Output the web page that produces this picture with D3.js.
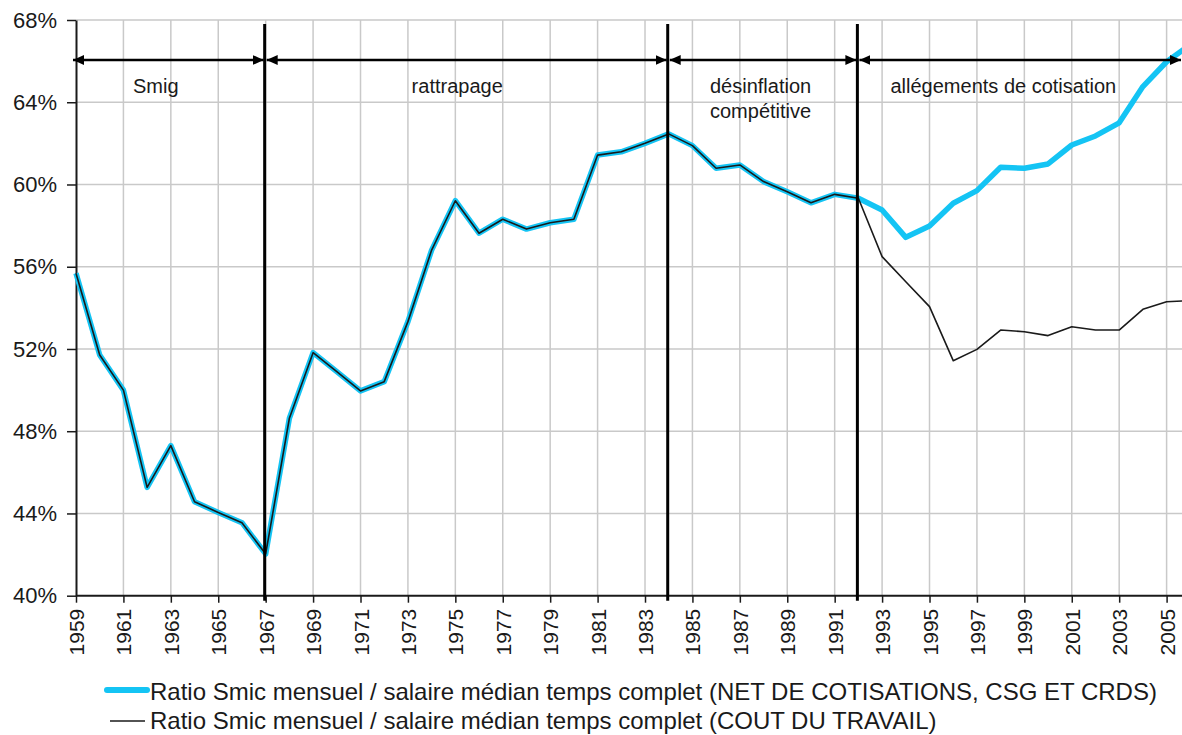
<!DOCTYPE html>
<html><head><meta charset="utf-8">
<script src="https://cdn.jsdelivr.net/npm/d3@7/dist/d3.min.js"></script>
<style>body{margin:0;background:#fff} svg{display:block;font-family:Arial,"Liberation Sans",sans-serif}</style>
</head><body><svg id="c" width="1182" height="735"></svg>
<script>
const years = [1959,1960,1961,1962,1963,1964,1965,1966,1967,1968,1969,1970,1971,1972,1973,1974,1975,1976,1977,1978,1979,1980,1981,1982,1983,1984,1985,1986,1987,1988,1989,1990,1991,1992,1993,1994,1995,1996,1997,1998,1999,2000,2001,2002,2003,2004,2005,2006];
const netValues = [55.68,51.71,50.0,45.27,47.3,44.57,44.05,43.55,42.03,48.63,51.82,50.9,49.96,50.41,53.33,56.81,59.21,57.63,58.31,57.83,58.14,58.31,61.43,61.59,62.0,62.46,61.89,60.79,60.95,60.14,59.65,59.11,59.52,59.33,58.76,57.43,57.98,59.09,59.7,60.84,60.79,61.0,61.92,62.36,63.0,64.76,65.97,66.8];
const costValues = [55.68,51.71,50.0,45.27,47.3,44.57,44.05,43.55,42.03,48.63,51.82,50.9,49.96,50.41,53.33,56.81,59.21,57.63,58.31,57.83,58.14,58.31,61.43,61.59,62.0,62.46,61.89,60.79,60.95,60.14,59.65,59.11,59.52,59.33,56.49,55.27,54.06,51.43,51.98,52.92,52.84,52.65,53.08,52.92,52.92,53.93,54.3,54.35];
const yTickValues = [40,44,48,52,56,60,64,68];
const xTickValues = [1959,1961,1963,1965,1967,1969,1971,1973,1975,1977,1979,1981,1983,1985,1987,1989,1991,1993,1995,1997,1999,2001,2003,2005];
const periodBounds = [1959,1967,1984,1992,2006];
const periodLabels = [["Smig"],["rattrapage"],["désinflation","compétitive"],["allégements de cotisation"]];
const legendLabels = ["Ratio Smic mensuel / salaire médian temps complet (NET DE COTISATIONS, CSG ET CRDS)","Ratio Smic mensuel / salaire médian temps complet (COUT DU TRAVAIL)"];

const W = 1182, H = 735;
const CYAN = "#14c4f4", INK = "#1a1a1a", GRID = "#c9c9c9";
const svg = d3.select("#c");
const x = d3.scaleLinear().domain([1959, 2005]).range([76, 1166.6]);
const y = d3.scaleLinear().domain([40, 68]).range([595.7, 20]);
const plotLeft = x(1959), plotTop = y(68), plotBottom = y(40);

// grid
svg.append("g").selectAll("line").data(yTickValues.filter(d => d > 40)).join("line")
  .attr("x1", plotLeft).attr("x2", W).attr("y1", d => y(d)).attr("y2", d => y(d))
  .attr("stroke", GRID).attr("stroke-width", 1.5);
svg.append("g").selectAll("line").data(xTickValues.filter(d => d > 1959)).join("line")
  .attr("x1", d => x(d)).attr("x2", d => x(d)).attr("y1", plotTop).attr("y2", plotBottom)
  .attr("stroke", GRID).attr("stroke-width", 1.5);

// y axis
const ya = svg.append("g").attr("transform", `translate(${plotLeft},0)`)
  .call(d3.axisLeft(y).tickValues(yTickValues).tickFormat(d => d + "%").tickSize(9).tickSizeOuter(0).tickPadding(10));
ya.select(".domain").attr("stroke", INK).attr("stroke-width", 2);
ya.selectAll(".tick line").attr("stroke", INK).attr("stroke-width", 1.5);
ya.selectAll("text").attr("font-size", 22).attr("fill", INK).attr("font-family", "Arial, 'Liberation Sans', sans-serif");

// x axis
const xa = svg.append("g").attr("transform", `translate(0,${plotBottom})`)
  .call(d3.axisBottom(x).tickValues(xTickValues).tickFormat(d3.format("d")).tickSize(7).tickSizeOuter(0));
xa.select(".domain").remove();
xa.append("line").attr("x1", plotLeft).attr("x2", W).attr("y1", 0).attr("y2", 0).attr("stroke", INK).attr("stroke-width", 2);
xa.selectAll(".tick line").attr("stroke", INK).attr("stroke-width", 1.5);
xa.selectAll("text").attr("font-size", 21).attr("fill", INK).attr("font-family", "Arial, 'Liberation Sans', sans-serif")
  .attr("transform", "rotate(-90)").attr("text-anchor", "end").attr("x", -13).attr("y", 0).attr("dy", "0.36em");

// lines
const pts = (vals) => years.map((yr, i) => [yr, vals[i]]);
const line = d3.line().x(d => x(d[0])).y(d => y(d[1]));
svg.append("path").attr("d", line(pts(netValues))).attr("fill", "none").attr("stroke", CYAN)
  .attr("stroke-width", 5.5).attr("stroke-linejoin", "round");
svg.append("path").attr("d", line(pts(costValues))).attr("fill", "none").attr("stroke", INK)
  .attr("stroke-width", 1.6).attr("stroke-linejoin", "round");

// period dividers
svg.append("g").selectAll("line").data(periodBounds.slice(1, -1)).join("line")
  .attr("x1", d => x(d) - 1).attr("x2", d => x(d) - 1).attr("y1", 24).attr("y2", plotBottom + 5)
  .attr("stroke", "#000").attr("stroke-width", 3);

// arrows
svg.append("defs").append("marker").attr("id", "ah").attr("markerUnits", "userSpaceOnUse")
  .attr("viewBox", "0 0 11 10").attr("markerWidth", 11).attr("markerHeight", 10)
  .attr("refX", 11).attr("refY", 5).attr("orient", "auto-start-reverse")
  .append("path").attr("d", "M0,0L11,5L0,10Z").attr("fill", "#000");
const arrowY = 60;
const segs = periodLabels.map((lab, i) => ({ lab, a: periodBounds[i], b: periodBounds[i + 1] }));
svg.append("g").selectAll("line").data(segs).join("line")
  .attr("x1", d => x(d.a) - (d.a === 1959 ? 3 : -1)).attr("x2", d => Math.min(x(d.b) - 2, W - 1))
  .attr("y1", arrowY).attr("y2", arrowY)
  .attr("stroke", "#000").attr("stroke-width", 2.5)
  .attr("marker-start", "url(#ah)").attr("marker-end", "url(#ah)");

// period labels
const labelDx = [-15, -10, -3, -21];
segs.forEach((s, i) => {
  const cx = (x(s.a) + x(s.b)) / 2 + labelDx[i];
  const t = svg.append("text").attr("x", cx).attr("y", 93).attr("text-anchor", "middle")
    .attr("font-size", 20).attr("fill", INK);
  s.lab.forEach((ln, j) => t.append("tspan").attr("x", cx).attr("dy", j === 0 ? 0 : 24.5).text(ln));
});

// legend
const lg = svg.append("g");
lg.append("line").attr("x1", 107).attr("x2", 147).attr("y1", 690).attr("y2", 690)
  .attr("stroke", CYAN).attr("stroke-width", 6).attr("stroke-linecap", "round");
lg.append("line").attr("x1", 110).attr("x2", 145).attr("y1", 721).attr("y2", 721)
  .attr("stroke", INK).attr("stroke-width", 1.5);
lg.selectAll("text").data(legendLabels).join("text")
  .attr("x", 150).attr("y", (d, i) => 700 + i * 29).attr("font-size", 24).attr("fill", INK).text(d => d);
</script></body></html>
